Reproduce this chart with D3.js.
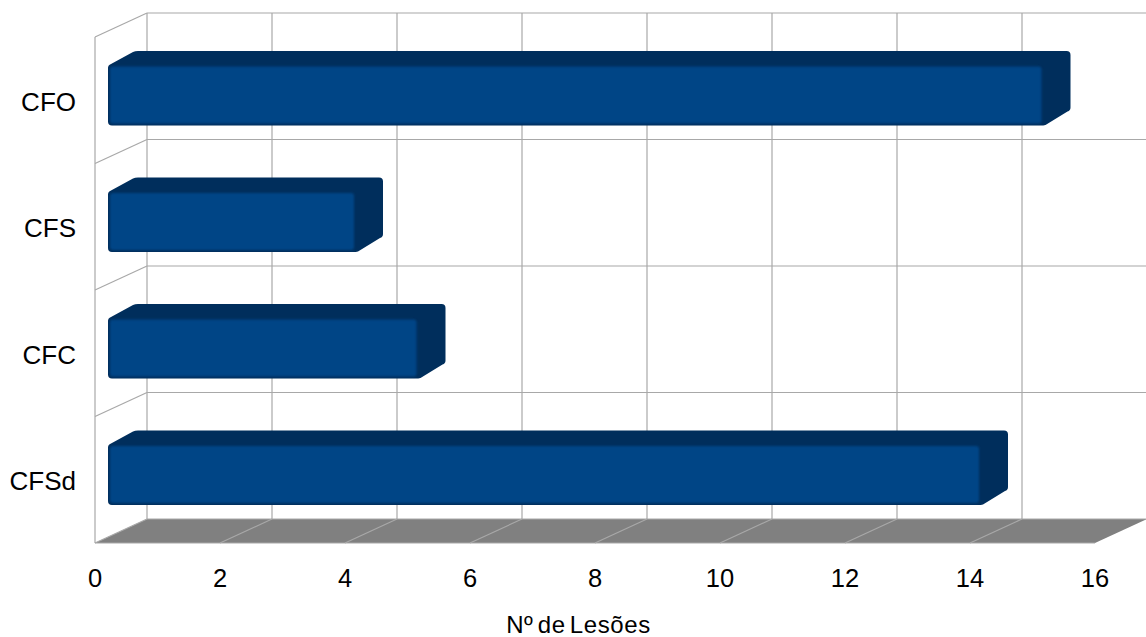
<!DOCTYPE html>
<html>
<head>
<meta charset="utf-8">
<script src="https://cdn.jsdelivr.net/npm/d3@7"></script>
<style>
html, body { margin: 0; padding: 0; background: #fff; }
svg { display: block; }
text { font-family: "Liberation Sans", Arial, sans-serif; fill: #000; }
</style>
</head>
<body>
<svg id="chart" width="1146" height="637"></svg>
<script>
const categories = ["CFO", "CFS", "CFC", "CFSd"];
const lesoes = [15, 4, 5, 14];
const xTicks = [0, 2, 4, 6, 8, 10, 12, 14, 16];
const xTitle = "Nº de Lesões";

const svg = d3.select("#chart");

// Front plane of the 3D box, and the shift to its back plane
const x = d3.scaleLinear().domain([0, 16]).range([95, 1095]);
const y = d3.scaleBand().domain(categories).range([37, 543]);
const depthX = 52, depthY = -24;

// Bars sit partway into the box
const barX0 = 13, barDepthX = 26, barDepthY = 13, barTop = 14;
const barDark = "#002e5c", barFace = "#004586", grid = "#a8a8a8";

const defs = svg.append("defs");
defs.append("filter").attr("id", "soft")
  .attr("x", "-5%").attr("y", "-10%").attr("width", "110%").attr("height", "120%")
  .append("feGaussianBlur").attr("stdDeviation", 1.3);

// Floor
const floorY = y.range()[1];
const backX = v => x(v) + depthX;
svg.append("polygon")
  .attr("points", [[x(0), floorY], [x(16), floorY], [backX(16), floorY + depthY], [backX(0), floorY + depthY]].join(" "))
  .attr("fill", "#808080");

const gridG = svg.append("g").attr("fill", "none").attr("stroke", grid).attr("stroke-width", 1.2);

// Back wall verticals and their continuation across the floor
gridG.selectAll(".back").data(xTicks.slice(0, -1)).join("line")
  .attr("x1", backX).attr("x2", backX)
  .attr("y1", y.range()[0] + depthY).attr("y2", floorY + depthY);
gridG.selectAll(".floor").data(xTicks.slice(1, -1)).join("line")
  .attr("x1", x).attr("x2", backX)
  .attr("y1", floorY).attr("y2", floorY + depthY);

// Horizontal lines on the back wall and on the left wall
const rowEdges = categories.map(c => y(c)).concat(floorY);
gridG.selectAll(".row").data(rowEdges).join("line")
  .attr("x1", backX(0)).attr("x2", backX(16))
  .attr("y1", d => d + depthY).attr("y2", d => d + depthY);
gridG.selectAll(".wall").data(rowEdges).join("line")
  .attr("x1", x(0)).attr("x2", backX(0))
  .attr("y1", d => d).attr("y2", d => d + depthY);
gridG.append("line")
  .attr("x1", x(0)).attr("x2", x(0)).attr("y1", y.range()[0]).attr("y2", floorY);
gridG.append("line")
  .attr("x1", x(0)).attr("x2", x(16)).attr("y1", floorY).attr("y2", floorY);

// Bars: dark silhouette for top and end, then the softened front face
const bars = svg.append("g").selectAll("g").data(categories).join("g")
  .attr("transform", c => `translate(${x(0) + barX0},${y(c) + barTop})`);

const barLen = (c, i) => x(lesoes[i]) - x(0) - 1;
const faceH = 61.5;

bars.append("path")
  .attr("fill", barDark)
  .attr("d", (c, i) => {
    const w = barLen(c, i), r = 4, b = barDepthY + faceH;
    return `M0,${barDepthY + 4} Q0,${barDepthY + 1} 3,${barDepthY}
      L${barDepthX - 1},1 Q${barDepthX + 1},0 ${barDepthX + 4},0
      L${w + barDepthX - r},0 Q${w + barDepthX},0 ${w + barDepthX},${r}
      L${w + barDepthX},${faceH - 5} Q${w + barDepthX},${faceH - 2} ${w + barDepthX - 3},${faceH - 1}
      L${w + 1},${b - 0.5} Q${w - 1},${b} ${w - 4},${b}
      L4,${b} Q0,${b} 0,${b - 4} Z`;
  });

bars.append("rect")
  .attr("x", 2).attr("y", barDepthY + 2.5)
  .attr("width", (c, i) => barLen(c, i) - 5)
  .attr("height", faceH - 4.5)
  .attr("rx", 3)
  .attr("fill", barFace)
  .attr("filter", "url(#soft)");

// Category labels
svg.append("g").selectAll("text").data(categories).join("text")
  .attr("x", 76)
  .attr("y", c => y(c) + y.bandwidth() / 2 + 10.5)
  .attr("text-anchor", "end")
  .attr("font-size", 26)
  .text(c => c);

// Value axis labels
svg.append("g").selectAll("text").data(xTicks).join("text")
  .attr("x", x)
  .attr("y", 586.5)
  .attr("text-anchor", "middle")
  .attr("font-size", 25.5)
  .text(d => d);

svg.append("text")
  .attr("x", 578.5).attr("y", 633)
  .attr("text-anchor", "middle")
  .attr("font-size", 24)
  .attr("letter-spacing", 0.6)
  .attr("word-spacing", -3)
  .text(xTitle);
</script>
</body>
</html>
